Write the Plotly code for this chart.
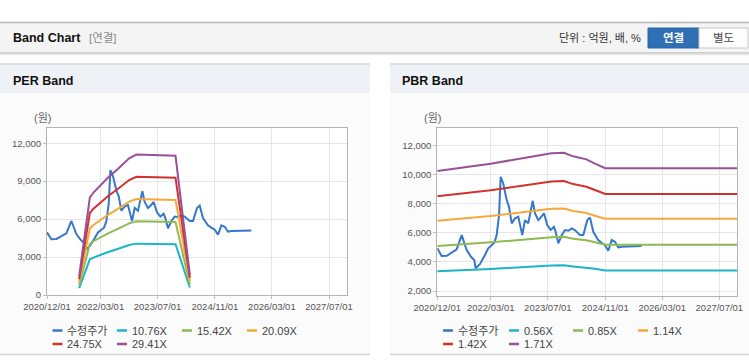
import plotly.graph_objects as go

W, H = 749, 364

# ---------------- data ----------------
price_dates = ["2020-12-01", "2021-01-07", "2021-02-20", "2021-04-16", "2021-05-15", "2021-06-27",
               "2021-08-08", "2021-09-14", "2021-10-12", "2021-10-24", "2021-11-30", "2022-01-11",
               "2022-02-08", "2022-04-01", "2022-04-21", "2022-05-11", "2022-05-25", "2022-06-16",
               "2022-07-15", "2022-08-04", "2022-08-27", "2022-09-24", "2022-10-22", "2022-11-25",
               "2022-12-18", "2023-01-15", "2023-02-22", "2023-03-13", "2023-04-10", "2023-04-25",
               "2023-05-29", "2023-06-26", "2023-07-25", "2023-08-22", "2023-09-05", "2023-09-28",
               "2023-10-27", "2023-11-24", "2023-12-22", "2024-01-19", "2024-02-16", "2024-03-31",
               "2024-04-28", "2024-06-01", "2024-06-24", "2024-07-22", "2024-09-02", "2024-10-01",
               "2024-10-30", "2024-11-27", "2024-12-26", "2025-01-23", "2025-02-20", "2025-03-20",
               "2025-09-07"]
price_values = [4950, 4410, 4430, 4700, 4870, 5850,
                4820, 4360, 4130, 3560, 3860, 4480,
                4940, 5320, 5850, 7230, 9860, 9400,
                8260, 7800, 6660, 7000, 7110, 5850,
                6880, 6660, 8210, 7350, 6880, 7000,
                7350, 6540, 6200, 6420, 6080, 5280,
                5850, 6200, 6150, 6310, 6200, 5850,
                5850, 6880, 7070, 6080, 5510, 5320,
                5160, 4770, 5510, 5390, 5000, 5050,
                5100]

per_dates = ["2021-09-01", "2021-12-01", "2022-01-01", "2022-03-01", "2022-05-01", "2022-08-01",
             "2022-11-01", "2023-01-01", "2023-06-01", "2023-12-01", "2024-04-01"]
per_names = ["10.76X", "15.42X", "20.09X", "24.75X", "29.41X"]
per_1076 = [550, 2820, 2960, 3180, 3380, 3660, 3950, 4060, 4040, 4020, 590]
per_1542 = [790, 4040, 4250, 4560, 4850, 5240, 5660, 5820, 5790, 5770, 840]
per_2009 = [1020, 5260, 5530, 5940, 6320, 6830, 7380, 7580, 7550, 7510, 1090]
per_2475 = [1260, 6480, 6820, 7320, 7780, 8420, 9090, 9340, 9300, 9260, 1350]
per_2941 = [1500, 7700, 8100, 8700, 9250, 10000, 10800, 11100, 11050, 11000, 1600]

pbr_dates = ["2020-12-01", "2022-03-01", "2023-08-01", "2023-11-15", "2024-02-01", "2024-05-25",
             "2024-08-05", "2024-11-01", "2027-12-01"]
pbr_names = ["0.56X", "0.85X", "1.14X", "1.42X", "1.71X"]
pbr_056 = [3360, 3520, 3760, 3770, 3690, 3620, 3530, 3420, 3420]
pbr_085 = [5100, 5350, 5710, 5730, 5600, 5500, 5360, 5190, 5190]
pbr_114 = [6840, 7170, 7660, 7680, 7510, 7370, 7180, 6970, 6970]
pbr_142 = [8520, 8930, 9540, 9570, 9360, 9180, 8950, 8680, 8680]
pbr_171 = [10260, 10760, 11490, 11520, 11270, 11060, 10770, 10450, 10450]

price_name = "수정주가"
x_tick_dates = ["2020-12-01", "2022-03-01", "2023-07-01", "2024-11-01", "2026-03-01", "2027-07-01"]
x_tick_labels = ["2020/12/01", "2022/03/01", "2023/07/01", "2024/11/01", "2026/03/01", "2027/07/01"]
per_y_ticks = [0, 3000, 6000, 9000, 12000]
pbr_y_ticks = [2000, 4000, 6000, 8000, 10000, 12000]

colors = ["#3577c8", "#1db5c6", "#8dba52", "#f4a93c", "#d2322e", "#99509a"]

# ---------------- helpers ----------------
def px(x):
    return x / W

def py(y):
    return 1 - y / H

fig = go.Figure()

per_series = [per_1076, per_1542, per_2009, per_2475, per_2941]
pbr_series = [pbr_056, pbr_085, pbr_114, pbr_142, pbr_171]

fig.add_trace(go.Scatter(x=price_dates, y=price_values, name=price_name, mode="lines",
                         line=dict(color=colors[0], width=2), xaxis="x", yaxis="y"))
for nm, vals, c in zip(per_names, per_series, colors[1:]):
    fig.add_trace(go.Scatter(x=per_dates, y=vals, name=nm, mode="lines",
                             line=dict(color=c, width=2), xaxis="x", yaxis="y"))
fig.add_trace(go.Scatter(x=price_dates, y=price_values, name=price_name, mode="lines",
                         line=dict(color=colors[0], width=2), xaxis="x2", yaxis="y2"))
for nm, vals, c in zip(pbr_names, pbr_series, colors[1:]):
    fig.add_trace(go.Scatter(x=pbr_dates, y=vals, name=nm, mode="lines",
                             line=dict(color=c, width=2), xaxis="x2", yaxis="y2"))

tickfont = dict(family="Liberation Sans, Arial, sans-serif", size=9.5, color="#555555")
axis_common = dict(showline=True, mirror=True, linecolor="#b4b4b4", linewidth=1,
                   showgrid=True, gridcolor="#e6e6e6", gridwidth=1, zeroline=False,
                   ticks="outside", ticklen=3, tickcolor="#c0c0c0", tickfont=tickfont,
                   automargin=False)

per_plot = (47, 347, 128, 295)
pbr_plot = (437.3, 737.3, 128, 295.7)

fig.update_layout(
    width=W, height=H, margin=dict(l=0, r=0, t=0, b=0, autoexpand=False),
    paper_bgcolor="white", plot_bgcolor="white", showlegend=False,
    font=dict(family="Liberation Sans, Noto Sans CJK KR, sans-serif", size=11, color="#333"),
    xaxis=dict(domain=[px(per_plot[0]), px(per_plot[1])], type="date",
               range=["2020-12-01", "2027-12-01"], tickvals=x_tick_dates, ticktext=x_tick_labels,
               anchor="y", **axis_common),
    yaxis=dict(domain=[py(per_plot[3]), py(per_plot[2])], range=[0, 13200],
               tickvals=per_y_ticks, tickformat=",d", anchor="x", **axis_common),
    xaxis2=dict(domain=[px(pbr_plot[0]), px(pbr_plot[1])], type="date",
                range=["2020-12-01", "2027-12-01"], tickvals=x_tick_dates, ticktext=x_tick_labels,
                anchor="y2", **axis_common),
    yaxis2=dict(domain=[py(pbr_plot[3]), py(pbr_plot[2])], range=[1680, 13220],
                tickvals=pbr_y_ticks, tickformat=",d", anchor="x2", **axis_common),
)

shapes = []
def rect(x0, y0, x1, y1, fill, line_color=None, lw=0):
    shapes.append(dict(type="rect", xref="paper", yref="paper", x0=px(x0), x1=px(x1),
                       y0=py(y1), y1=py(y0), fillcolor=fill, layer="below",
                       line=dict(color=line_color or fill, width=lw)))

def hline(x0, x1, y, color, lw=1, layer="below"):
    shapes.append(dict(type="line", xref="paper", yref="paper", x0=px(x0), x1=px(x1),
                       y0=py(y), y1=py(y), layer=layer, line=dict(color=color, width=lw)))

# header bar
rect(0, 22, 749, 53, "#f4f4f4")
hline(0, 749, 22.5, "#b8b8b8", 1.5)
hline(0, 749, 53, "#c4c4c4", 1.5)
hline(0, 749, 54.5, "#e6e6e6", 1.5)
# panels
for (a, b) in [(0, 370), (390, 749)]:
    rect(a, 64, b, 354, "#fbfbfb")
    rect(a, 64, b, 93, "#eef1f6")
    hline(a, b, 64, "#d8d8d8", 1.5)
    hline(a, b, 354.5, "#d4d4d4", 1.5)
# white plot areas
rect(per_plot[0], per_plot[2], per_plot[1], per_plot[3], "white")
rect(pbr_plot[0], pbr_plot[2], pbr_plot[1], pbr_plot[3], "white")
# buttons
rect(648, 28, 699, 48, "#2f6fb4", "#2a64a6", 1)
rect(699, 28, 748, 48, "#fdfdfd", "#c8c8c8", 1)

annotations = []
def text(x, y, s, size=11, color="#333", bold=False, anchor="left", family=None):
    annotations.append(dict(xref="paper", yref="paper", x=px(x), y=py(y), text=("<b>%s</b>" % s) if bold else s,
                            showarrow=False, xanchor=anchor, yanchor="middle",
                            font=dict(size=size, color=color,
                                      family=family or "Liberation Sans, Noto Sans CJK KR, sans-serif")))

text(11, 38.5, "Band Chart", 12.5, "#111", bold=True)
text(87, 38.5, "[연결]", 11.5, "#8a8a8a")
text(643, 38.5, "단위 : 억원, 배, %", 11, "#333", anchor="right")
text(673.5, 38.5, "연결", 11.5, "white", bold=True, anchor="center")
text(723.5, 38.5, "별도", 11.5, "#444", anchor="center")
text(11, 80.5, "PER Band", 12.5, "#111", bold=True)
text(400, 80.5, "PBR Band", 12.5, "#111", bold=True)
text(32, 118, "(원)", 11, "#666")
text(422, 118, "(원)", 11, "#666")

# manual legends
legend_names_per = [price_name] + per_names
legend_names_pbr = [price_name] + pbr_names
per_icon_x = [52.5, 117, 182, 247]
pbr_icon_x = [443, 509, 573, 638]
rows_y = [330.5, 344]
for names, xs in [(legend_names_per, per_icon_x), (legend_names_pbr, pbr_icon_x)]:
    for i, nm in enumerate(names):
        col, row = i % 4, i // 4
        x0 = xs[col]
        yy = rows_y[row]
        shapes.append(dict(type="line", xref="paper", yref="paper", x0=px(x0), x1=px(x0 + 10),
                           y0=py(yy), y1=py(yy), line=dict(color=colors[i], width=2.5)))
        text(x0 + 12.5, yy, nm, 11, "#444")

fig.update_layout(shapes=shapes, annotations=annotations)
fig.write_html("out.html", config={"displayModeBar": False},
               post_script="document.body.style.margin='0px';document.body.style.overflow='hidden';")
